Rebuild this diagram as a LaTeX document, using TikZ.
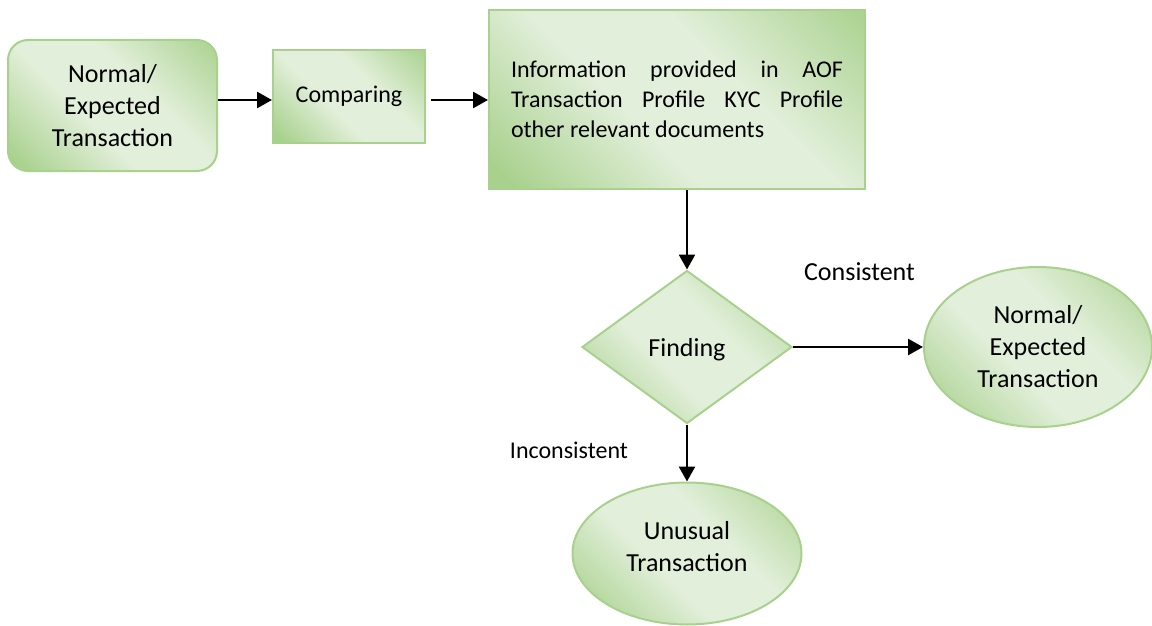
\documentclass[tikz,border=0pt]{standalone}
\usepackage{fontspec}
\setmainfont{Carlito}
\usetikzlibrary{shapes.geometric,arrows.meta}
\definecolor{gdark}{HTML}{A9D18E}
\definecolor{glight}{HTML}{E2EFDA}
\definecolor{gborder}{HTML}{A9D18E}
\pgfdeclarehorizontalshading{greenrefl}{100bp}{color(0bp)=(gdark); color(18bp)=(gdark); color(42bp)=(glight); color(60bp)=(glight); color(86bp)=(gdark); color(100bp)=(gdark)}
\begin{document}
\begin{tikzpicture}[x=1pt,y=-1pt,
  shp/.style={draw=gborder, line width=2pt, shading=greenrefl, shading angle=45,
    inner sep=0pt, align=center, font=\fontsize{26}{32}\selectfont},
  arr/.style={line width=2.6pt, -{Triangle[length=15pt,width=16pt]}},
  lbl/.style={inner sep=0pt}]
\useasboundingbox (0,0) rectangle (1152,626);
\node[shp, rounded corners=20pt, minimum width=209pt, minimum height=131pt] (n1) at (112.5,105.5) {Normal/\\Expected\\Transaction};
\node[shp, minimum width=152pt, minimum height=93pt, font=\fontsize{24}{29}\selectfont] (n2) at (349,96.5) {Comparing};
\node[shp, minimum width=376pt, minimum height=179pt, text width=332pt, align=justify,
  font=\fontsize{24}{30}\selectfont] (n3) at (677,99.5)
  {Information provided in AOF Transaction Profile KYC Profile other relevant documents};
\node[shp, diamond, minimum width=210pt, minimum height=153pt, text depth=0pt] (d) at (687,347) {Finding};
\node[shp, ellipse, minimum width=228pt, minimum height=160pt] (e1) at (1038,347) {Normal/\\Expected\\Transaction};
\node[shp, ellipse, minimum width=229pt, minimum height=142pt, text depth=14pt] (e2) at (687,553.5) {Unusual\\Transaction};
\node[lbl, font=\fontsize{26}{30}\selectfont] (c) at (859.5,272) {Consistent};
\node[lbl, font=\fontsize{24}{28}\selectfont] (ic) at (569,450) {Inconsistent};
\draw[arr] ([yshift=5.5pt]n1.east) -- ([yshift=5.5pt]n1.east -| n2.west);
\draw[arr, shorten <=5pt] ([yshift=-3.5pt]n2.east) -- ([yshift=-3.5pt]n2.east -| n3.west);
\draw[arr] (n3.south -| d.north) -- (d.north);
\draw[arr] (d.east) -- (e1.west);
\draw[arr] (d.south) -- (e2.north);
\end{tikzpicture}
\end{document}
